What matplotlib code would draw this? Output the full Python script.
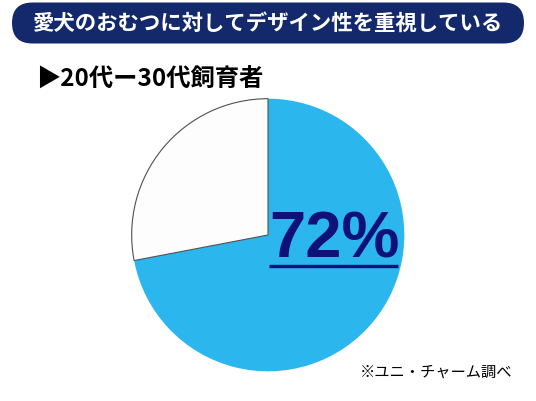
import matplotlib
matplotlib.use("Agg")
import matplotlib.pyplot as plt
from matplotlib.patches import FancyBboxPatch

plt.rcParams["font.family"] = ["Noto Sans CJK JP", "DejaVu Sans"]

# data
labels = ["デザイン性を重視している", "その他"]
shares = [72, 28]
colors = ["#2BB6EE", "#FDFDFD"]
title = "愛犬のおむつに対してデザイン性を重視している"
subtitle = "▶20代ー30代飼育者"
note = "※ユニ・チャーム調べ"

W, H = 536, 401
fig = plt.figure(figsize=(W / 100, H / 100), dpi=100)
fig.patch.set_facecolor("white")

# background layer in pixel coordinates
bg = fig.add_axes([0, 0, 1, 1], zorder=0)
bg.set_xlim(0, W)
bg.set_ylim(H, 0)
bg.axis("off")
banner = FancyBboxPatch((12, 2.5), 512, 41,
                        boxstyle="round,pad=0,rounding_size=20.5",
                        facecolor="#13296B", edgecolor="none")
bg.add_patch(banner)

# pie
cx, cy, r = 268, 235, 137
pax = fig.add_axes([(cx - r) / W, 1 - (cy + r) / H, 2 * r / W, 2 * r / H], zorder=1)
wedges, _ = pax.pie(shares, colors=colors, startangle=90, counterclock=False,
                    radius=1.0)
wedges[0].set_edgecolor("none")
wedges[1].set_edgecolor("#505050")
wedges[1].set_linewidth(0.8)
pax.set_xlim(-1.005, 1.005)
pax.set_ylim(-1.005, 1.005)
pax.set_aspect("auto")
pax.axis("off")

# overlay for text
ov = fig.add_axes([0, 0, 1, 1], zorder=2)
ov.set_xlim(0, W)
ov.set_ylim(H, 0)
ov.axis("off")
ov.patch.set_alpha(0)

ov.text(268, 23, title, color="white", fontsize=15.4, fontweight="bold",
        ha="center", va="center")
ov.text(36, 80, subtitle, color="black", fontsize=17.5, fontweight="bold",
        ha="left", va="center")
ov.text(334, 258, f"{shares[0]}%", color="#0E1177", fontsize=47,
        fontweight="bold", family=["Liberation Sans", "DejaVu Sans"],
        ha="center", va="baseline")
ov.plot([269, 398], [266, 266], color="#0E1177", lw=2.4, solid_capstyle="butt")
ov.text(360, 372, note, color="black", fontsize=11, ha="left", va="center")

fig.savefig("out.png", dpi=100)
